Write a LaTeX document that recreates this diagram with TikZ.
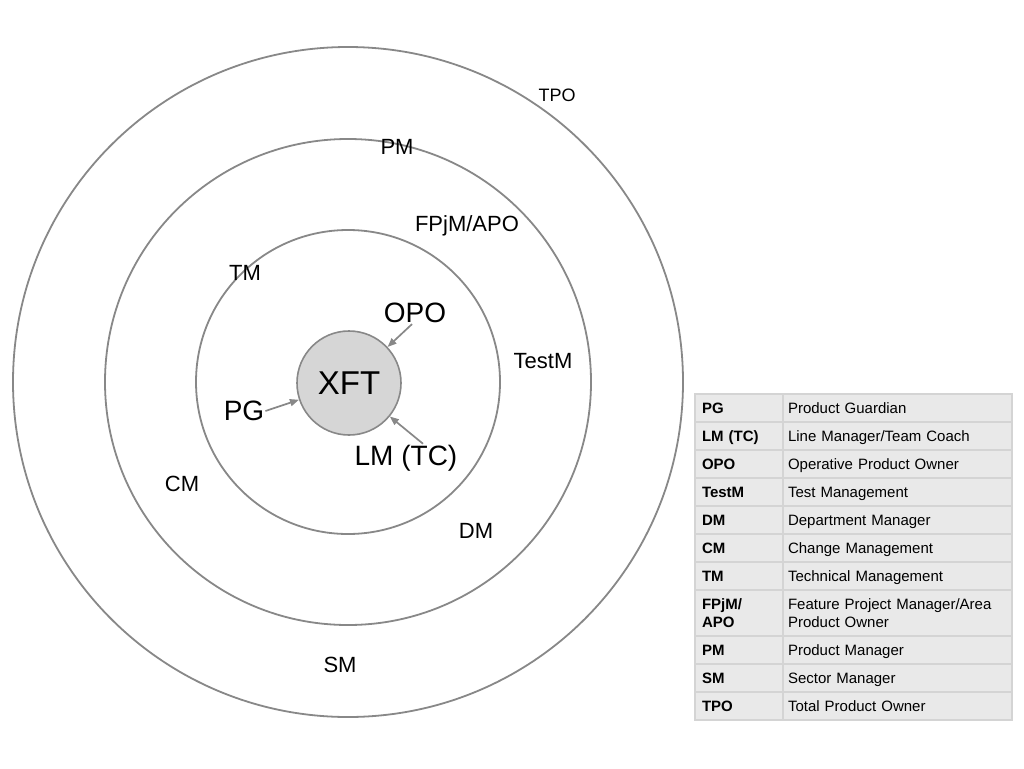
\documentclass[tikz,border=0pt]{standalone}
\usepackage{fontspec}
\setmainfont{Liberation Sans}
\usetikzlibrary{arrows.meta, positioning, fit}
\definecolor{RingGray}{HTML}{888888}
\definecolor{CoreFill}{HTML}{D6D6D6}
\definecolor{CellFill}{HTML}{E9E9E9}
\definecolor{CellLine}{HTML}{D4D4D4}
\newcommand\cellstrut{\rule[-3.2pt]{0pt}{17.2pt}}
\tikzset{
    ring/.style={draw=RingGray, line width=1.8pt},
    core/.style={circle, draw=RingGray, fill=CoreFill, line width=1.6pt, minimum size=104pt, inner sep=0pt, font=\fontsize{33}{33}\selectfont},
    role/.style={inner sep=1pt, font=\fontsize{22}{22}\selectfont},
    nearrole/.style={role, font=\fontsize{28}{28}\selectfont},
    arr/.style={-{Triangle[length=9pt, width=7pt]}, line width=1.7pt, draw=RingGray},
    keycell/.style={draw=CellLine, fill=CellFill, line width=1.5pt, outer sep=0pt, minimum width=88pt, inner xsep=7pt, text width=74pt, align=left, font=\fontsize{15}{17}\selectfont\bfseries},
    desccell/.style={draw=CellLine, fill=CellFill, line width=1.5pt, outer sep=0pt, minimum width=229pt, inner xsep=5pt, text width=219pt, align=left, font=\fontsize{15}{17}\selectfont}
}
\begin{document}
\begin{tikzpicture}[x=1pt, y=-1pt]
    \useasboundingbox[fill=white] (0,0) rectangle (1024,768);

    % Rings around the team
    \coordinate (c) at (348,382);
    \draw[ring] (c) circle (335);
    \draw[ring] (c) circle (243);
    \draw[ring] (c) circle (152);
    \node[core] (xft) at (349,383) {XFT};

    % Roles on the rings
    \node[role, font=\fontsize{18}{18}\selectfont] (tpo) at (557,95) {TPO};
    \node[role] (pm) at (397,147) {PM};
    \node[role] (fpjm) at (467,226) {FPjM/APO};
    \node[role] (tm) at (245,273) {TM};
    \node[role] (testm) at (543,361) {TestM};
    \node[role] (cm) at (182,484) {CM};
    \node[role] (dm) at (476,531) {DM};
    \node[role] (sm) at (340,665) {SM};

    % Roles next to the team
    \node[nearrole] (opo) at (415,313) {OPO};
    \node[nearrole] (pg) at (244,411) {PG};
    \node[nearrole] (lm) at (406,458) {LM (TC)};
    \draw[arr] ([xshift=-3pt]opo.south) -- (xft);
    \draw[arr] (pg.east) -- (xft);
    \draw[arr] ([xshift=17pt]lm.north) -- (xft);

    % Legend
    \coordinate (k0) at (739,394);
    \foreach \abbr/\desc/\h [count=\i, remember=\i as \last (initially 0)] in {
        PG/{Product Guardian}/28,
        LM (TC)/{Line Manager/Team Coach}/28,
        OPO/{Operative Product Owner}/28,
        TestM/{Test Management}/28,
        DM/{Department Manager}/28,
        CM/{Change Management}/28,
        TM/{Technical Management}/28,
        {FPjM/\\APO}/{Feature Project Manager/Area\\Product Owner}/46,
        PM/{Product Manager}/28,
        SM/{Sector Manager}/28,
        TPO/{Total Product Owner}/28} {
        \node[keycell, minimum height=\h pt, below=0pt of k\last] (k\i) {\cellstrut\abbr\cellstrut};
        \node[desccell, minimum height=\h pt, right=0pt of k\i] (d\i) {\cellstrut\desc\cellstrut};
    }
    \node[fit=(k1)(d11), draw=CellLine, line width=2.5pt, inner sep=0pt] (legend) {};
\end{tikzpicture}
\end{document}
